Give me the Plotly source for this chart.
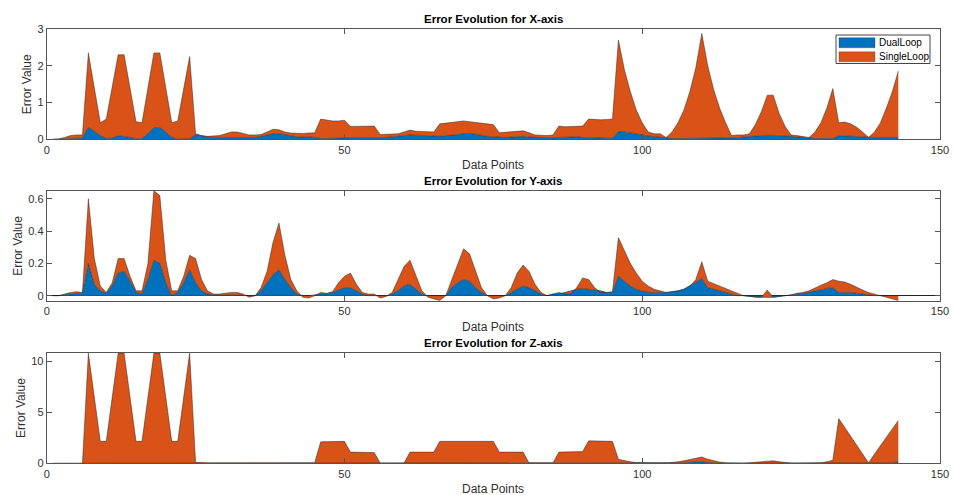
import plotly.graph_objects as go

# ---------------- data ----------------
x_points = list(range(1, 144))

x_dual = [0, 0, 0.01, 0.02, 0.03, 0.03, 0.33, 0.22, 0.1, 0.02,
          0.03, 0.1, 0.08, 0.05, 0.01, 0.02, 0.15, 0.32, 0.32, 0.2,
          0.05, 0.0, 0.01, 0.01, 0.13, 0.09, 0.06, 0.05, 0.05, 0.05,
          0.06, 0.07, 0.06, 0.05, 0.05, 0.08, 0.12, 0.15, 0.15, 0.12,
          0.09, 0.07, 0.06, 0.07, 0.05, 0.02, 0.02, 0.03, 0.04, 0.05,
          0.06, 0.05, 0.05, 0.04, 0.04, 0.04, 0.05, 0.06, 0.08, 0.1,
          0.12, 0.11, 0.1, 0.09, 0.08, 0.08, 0.1, 0.12, 0.14, 0.16,
          0.16, 0.14, 0.1, 0.08, 0.07, 0.05, 0.05, 0.06, 0.07, 0.08,
          0.06, 0.05, 0.04, 0.04, 0.04, 0.05, 0.06, 0.07, 0.07, 0.05,
          0.04, 0.03, 0.03, 0.03, 0.03, 0.2, 0.2, 0.18, 0.15, 0.12,
          0.09, 0.07, 0.05, 0.03, 0.02, 0.02, 0.02, 0.02, 0.02, 0.02,
          0.02, 0.02, 0.02, 0.02, 0.02, 0.04, 0.06, 0.08, 0.09, 0.1,
          0.11, 0.11, 0.1, 0.09, 0.08, 0.06, 0.04, 0.03, 0.02, 0.02,
          0.02, 0.02, 0.1, 0.09, 0.08, 0.07, 0.06, 0.05, 0.05, 0.05,
          0.05, 0.05, 0.05]

# stacked top (DualLoop + SingleLoop) as seen in the picture
x_stack_top = [0, 0.01, 0.05, 0.1, 0.12, 0.12, 2.35, 1.4, 0.45, 0.55,
               1.42, 2.3, 2.3, 1.4, 0.48, 0.45, 1.4, 2.35, 2.35, 1.4,
               0.45, 0.5, 1.38, 2.25, 0.15, 0.1, 0.08, 0.08, 0.1, 0.15,
               0.2, 0.2, 0.15, 0.12, 0.12, 0.13, 0.2, 0.27, 0.26, 0.2,
               0.17, 0.16, 0.16, 0.17, 0.18, 0.55, 0.52, 0.5, 0.5, 0.52,
               0.35, 0.35, 0.34, 0.34, 0.36, 0.13, 0.13, 0.13, 0.15, 0.2,
               0.25, 0.22, 0.21, 0.2, 0.2, 0.42, 0.44, 0.46, 0.5, 0.5,
               0.48, 0.46, 0.44, 0.43, 0.4, 0.18, 0.19, 0.2, 0.22, 0.23,
               0.18, 0.12, 0.11, 0.1, 0.12, 0.36, 0.34, 0.34, 0.34, 0.36,
               0.55, 0.53, 0.53, 0.54, 0.55, 2.7, 1.9, 1.3, 0.8, 0.45,
               0.2, 0.15, 0.15, 0.05, 0.2, 0.45, 0.8, 1.3, 1.95, 2.88,
               2.0, 1.35, 0.85, 0.45, 0.1, 0.12, 0.12, 0.15, 0.4, 0.75,
               1.2, 1.2, 0.7, 0.35, 0.12, 0.1, 0.08, 0.05, 0.2, 0.45,
               0.85, 1.38, 0.45, 0.47, 0.42, 0.33, 0.2, 0.05, 0.2, 0.45,
               0.85, 1.3, 1.86]

y_dual = [0, 0, 0.005, 0.01, 0.015, 0.015, 0.2, 0.07, 0.03, 0.015,
          0.06, 0.14, 0.15, 0.09, 0.02, 0.01, 0.1, 0.22, 0.2, 0.08,
          0.0, 0.02, 0.08, 0.16, 0.08, 0.03, 0.01, 0.005, 0.005, 0.005,
          0.005, 0.005, 0.0, 0.0, 0.0, 0.03, 0.08, 0.13, 0.16, 0.1,
          0.05, 0.01, 0.0, 0.0, 0.005, 0.01, 0.01, 0.02, 0.035, 0.05,
          0.05, 0.03, 0.01, 0.0, 0.0, 0.0, 0.0, 0.01, 0.03, 0.06,
          0.07, 0.04, 0.01, 0.0, 0.0, 0.0, 0.0, 0.05, 0.08, 0.1,
          0.09, 0.05, 0.02, 0.0, 0.0, 0.0, 0.0, 0.02, 0.04, 0.06,
          0.05, 0.03, 0.01, 0.0, 0.01, 0.01, 0.02, 0.03, 0.04, 0.045,
          0.04, 0.035, 0.03, 0.02, 0.02, 0.12, 0.09, 0.06, 0.04, 0.03,
          0.02, 0.02, 0.02, 0.02, 0.025, 0.03, 0.04, 0.06, 0.08, 0.105,
          0.05, 0.04, 0.03, 0.02, 0.01, 0.0, 0.0, -0.005, -0.01, -0.01,
          -0.01, -0.01, -0.005, 0.0, 0.005, 0.01, 0.015, 0.02, 0.03, 0.035,
          0.045, 0.05, 0.02, 0.02, 0.02, 0.015, 0.01, 0.005, 0.0, 0.0,
          0.0, 0.0, 0.0]

y_stack_top = [0, 0, 0.01, 0.02, 0.025, 0.02, 0.6, 0.23, 0.06, 0.02,
               0.08, 0.23, 0.23, 0.12, 0.03, 0.03, 0.2, 0.65, 0.62, 0.22,
               0.03, 0.03, 0.12, 0.25, 0.23, 0.1, 0.03, 0.01, 0.01, 0.015,
               0.02, 0.02, 0.01, -0.01, 0.0, 0.05, 0.15, 0.33, 0.45, 0.25,
               0.1, 0.03, -0.01, -0.015, 0.0, 0.02, 0.015, 0.025, 0.08, 0.12,
               0.14, 0.07, 0.02, 0.01, 0.01, -0.015, -0.005, 0.02, 0.1, 0.18,
               0.22, 0.12, 0.03, -0.01, -0.02, -0.03, 0.0, 0.1, 0.2, 0.29,
               0.26, 0.15, 0.05, 0.0, -0.02, -0.015, 0.0, 0.05, 0.14, 0.19,
               0.15, 0.07, 0.02, 0.0, 0.01, 0.02, 0.01, 0.01, 0.05, 0.11,
               0.1, 0.05, 0.02, 0.02, 0.025, 0.36, 0.28, 0.2, 0.14, 0.09,
               0.06, 0.04, 0.03, 0.02, 0.025, 0.03, 0.04, 0.06, 0.1, 0.21,
               0.09, 0.075, 0.06, 0.045, 0.03, 0.015, 0.0, -0.005, -0.005, -0.01,
               0.035, -0.01, -0.005, 0.0, 0.005, 0.015, 0.02, 0.03, 0.05, 0.065,
               0.08, 0.1, 0.09, 0.085, 0.07, 0.05, 0.035, 0.02, 0.01, 0.0,
               -0.01, -0.02, -0.03]

z_dual = [0, 0, 0, 0, 0, 0, 0.02, 0.02, 0.02, 0.02,
          0.02, 0.02, 0.02, 0.02, 0.02, 0.02, 0.02, 0.02, 0.02, 0.02,
          0.02, 0.02, 0.02, 0.02, 0.01, 0.01, 0.01, 0.01, 0.01, 0.01,
          0.01, 0.01, 0.01, 0.01, 0.01, 0.01, 0.01, 0.01, 0.01, 0.01,
          0.01, 0.01, 0.01, 0.01, 0.01, 0.01, 0.01, 0.01, 0.01, 0.01,
          0.01, 0.01, 0.01, 0.01, 0.01, 0.01, 0.01, 0.01, 0.01, 0.01,
          0.01, 0.01, 0.01, 0.01, 0.01, 0.01, 0.01, 0.01, 0.01, 0.01,
          0.01, 0.01, 0.01, 0.01, 0.01, 0.01, 0.01, 0.01, 0.01, 0.01,
          0.01, 0.01, 0.01, 0.01, 0.01, 0.01, 0.01, 0.01, 0.01, 0.01,
          0.01, 0.01, 0.01, 0.01, 0.01, 0.01, 0.01, 0.01, 0.01, 0.01,
          0.01, 0.01, 0.01, 0.01, 0.01, 0.03, 0.06, 0.1, 0.13, 0.15,
          0.08, 0.04, 0.02, 0.02, 0.02, 0.02, 0.02, 0.02, 0.04, 0.06,
          0.08, 0.08, 0.05, 0.02, 0.02, 0.02, 0.02, 0.02, 0.02, 0.02,
          0.05, 0.05, 0.05, 0.05, 0.05, 0.05, 0.05, 0.05, 0.05, 0.05,
          0.05, 0.05, 0.15]

z_stack_top = [0, 0, 0, 0, 0, 0, 10.8, 6.5, 2.15, 2.15,
               6.5, 10.8, 10.8, 6.5, 2.15, 2.15, 6.5, 10.8, 10.8, 6.5,
               2.15, 2.15, 6.5, 10.8, 0.1, 0.05, 0.05, 0.05, 0.05, 0.05,
               0.05, 0.05, 0.05, 0.05, 0.05, 0.05, 0.05, 0.05, 0.05, 0.05,
               0.05, 0.05, 0.05, 0.05, 0.05, 2.1, 2.1, 2.1, 2.1, 2.15,
               1.1, 1.1, 1.1, 1.1, 1.05, 0.02, 0.02, 0.02, 0.02, 0.02,
               1.1, 1.1, 1.1, 1.1, 1.1, 2.15, 2.15, 2.15, 2.15, 2.15,
               2.15, 2.15, 2.15, 2.15, 2.15, 1.1, 1.1, 1.1, 1.1, 1.1,
               0.02, 0.02, 0.02, 0.02, 0.02, 1.1, 1.1, 1.1, 1.1, 1.15,
               2.2, 2.2, 2.2, 2.15, 2.15, 0.4, 0.25, 0.15, 0.08, 0.05,
               0.02, 0.02, 0.02, 0.02, 0.05, 0.15, 0.25, 0.35, 0.45, 0.62,
               0.4, 0.25, 0.12, 0.05, 0.02, 0.02, 0.02, 0.05, 0.1, 0.18,
               0.26, 0.25, 0.15, 0.08, 0.03, 0.02, 0.02, 0.02, 0.02, 0.05,
               0.15, 0.3, 4.38, 3.5, 2.6, 1.75, 0.9, 0.05, 0.9, 1.75,
               2.6, 3.4, 4.2]

series_names = ["DualLoop", "SingleLoop"]
panel_titles = ["Error Evolution for X-axis", "Error Evolution for Y-axis",
                "Error Evolution for Z-axis"]
x_ticks = [0, 50, 100, 150]
y_ticks_x = [0, 1, 2, 3]
y_ticks_y = [0, 0.2, 0.4, 0.6]
y_ticks_z = [0, 5, 10]

# ---------------- styling ----------------
W, H = 954, 495
BLUE = "#0072BD"
ORANGE = "#D95319"
SERIES_COLORS = [BLUE, ORANGE]
EDGE = "rgba(30,30,30,0.75)"
FONT = "Liberation Sans, Arial, Helvetica, sans-serif"
TXT = "#303030"
AX = "#555555"

def px_x(p):
    return p / W

def px_y(p):
    return 1 - p / H

# pixel boxes of the three axes: (top, bottom)
L, R = 46.7, 940.0
boxes = [(29.0, 139.3), (190.7, 301.0), (352.7, 463.3)]
ylabel_x = [27, 18, 21]
y_ranges = [[0, 3], [-0.033, 0.65], [0, 10.84]]
y_tick_sets = [y_ticks_x, y_ticks_y, y_ticks_z]
dual_sets = [x_dual, y_dual, z_dual]
top_sets = [x_stack_top, y_stack_top, z_stack_top]

fig = go.Figure()
layout = dict(width=W, height=H, autosize=False,
              margin=dict(l=0, r=0, t=0, b=0),
              paper_bgcolor="white", plot_bgcolor="white",
              font=dict(family=FONT, color=TXT, size=11),
              showlegend=False, annotations=[], shapes=[])

for i in range(3):
    n = "" if i == 0 else str(i + 1)
    xa, ya = "x" + n, "y" + n
    fig.add_trace(go.Scatter(x=x_points, y=dual_sets[i], xaxis=xa, yaxis=ya,
                             mode="lines", fill="tozeroy", fillcolor=BLUE,
                             line=dict(color=EDGE, width=0.6),
                             name=series_names[0], hoverinfo="skip"))
    fig.add_trace(go.Scatter(x=x_points, y=top_sets[i], xaxis=xa, yaxis=ya,
                             mode="lines", fill="tonexty", fillcolor=ORANGE,
                             line=dict(color=EDGE, width=0.6),
                             name=series_names[1], hoverinfo="skip"))
    top, bot = boxes[i]
    layout["xaxis" + n] = dict(domain=[px_x(L), px_x(R)], range=[0, 150],
                               anchor=ya, tickvals=x_ticks, ticks="inside",
                               ticklen=5, tickcolor=AX, showline=True,
                               linecolor=AX, linewidth=1, mirror="ticks",
                               showgrid=False, zeroline=False, automargin=False,
                               tickfont=dict(size=11, color=TXT),
                               layer="above traces")
    layout["yaxis" + n] = dict(domain=[px_y(bot), px_y(top)], range=y_ranges[i],
                               anchor=xa, tickvals=y_tick_sets[i], ticks="inside",
                               ticklen=5, tickcolor=AX, showline=True,
                               linecolor=AX, linewidth=1, mirror="ticks",
                               showgrid=False, zeroline=(i == 1), automargin=False,
                               zerolinecolor="#222222", zerolinewidth=1,
                               tickfont=dict(size=11, color=TXT),
                               layer="above traces")
    layout["annotations"].append(dict(
        text="<b>" + panel_titles[i] + "</b>", xref="paper", yref="paper",
        x=px_x((L + R) / 2), y=px_y(top - 2), xanchor="center", yanchor="bottom",
        showarrow=False, font=dict(size=11.5, color="black", family=FONT)))
    layout["annotations"].append(dict(
        text="Data Points", xref="paper", yref="paper",
        x=px_x((L + R) / 2), y=px_y(bot + 17), xanchor="center", yanchor="top",
        showarrow=False, font=dict(size=12, color=TXT, family=FONT)))
    layout["annotations"].append(dict(
        text="Error Value", xref="paper", yref="paper", textangle=-90,
        x=px_x(ylabel_x[i]), y=px_y((top + bot) / 2), xanchor="center",
        yanchor="middle", showarrow=False,
        font=dict(size=12, color=TXT, family=FONT)))

# legend box (MATLAB style, in the first panel's upper-right corner)
LEG_L, LEG_R, LEG_T, LEG_B = 836.0, 930.0, 35.0, 63.5
layout["shapes"].append(dict(type="rect", xref="paper", yref="paper",
                             x0=px_x(LEG_L), x1=px_x(LEG_R),
                             y0=px_y(LEG_B), y1=px_y(LEG_T),
                             fillcolor="white", line=dict(color="#444444", width=1),
                             layer="above"))
for k, name in enumerate(series_names):
    cy = 42.8 + 14.0 * k
    layout["shapes"].append(dict(type="rect", xref="paper", yref="paper",
                                 x0=px_x(839), x1=px_x(875),
                                 y0=px_y(cy + 5), y1=px_y(cy - 5),
                                 fillcolor=SERIES_COLORS[k],
                                 line=dict(color="rgba(40,40,40,0.5)", width=0.6),
                                 layer="above"))
    layout["annotations"].append(dict(
        text=name, xref="paper", yref="paper", x=px_x(877), y=px_y(cy),
        xanchor="left", yanchor="middle", showarrow=False,
        font=dict(size=10, color="black", family=FONT)))

fig.update_layout(**layout)
fig.write_html("out.html", config={"displayModeBar": False},
               post_script="document.body.style.margin='0';"
                           "document.body.style.overflow='hidden';")
